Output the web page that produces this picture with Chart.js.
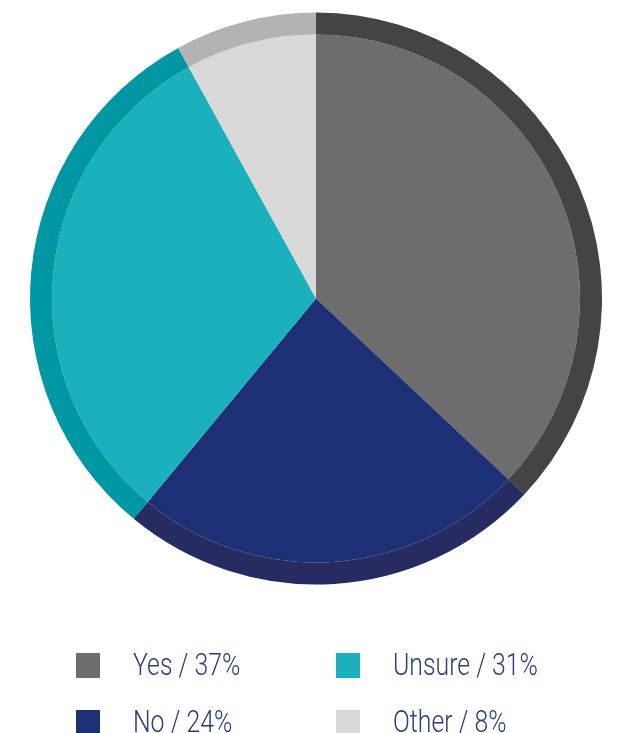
<!DOCTYPE html>
<html>
<head>
<meta charset="utf-8">
<script src="https://cdn.jsdelivr.net/npm/chart.js@4/dist/chart.umd.min.js"></script>
<style>
  html, body { margin: 0; padding: 0; background: #fff; }
  .wrap { position: relative; width: 617px; height: 733px; overflow: hidden; }
  #chart { position: absolute; left: 0; top: 0; }
  .legend { position: absolute; left: 0; top: 0; width: 617px; height: 733px; pointer-events: none; }
  .item { position: absolute; display: flex; align-items: center; height: 26px; }
  .swatch { width: 24px; height: 25px; margin-right: 33px; flex: none; }
  .txt {
    display: inline-block;
    font-family: Roboto, "Liberation Sans", sans-serif;
    font-weight: 300;
    font-size: 31px;
    line-height: 26px;
    color: #2c3b7b;
    white-space: nowrap;
    transform: scaleX(0.8);
    transform-origin: left center;
  }
</style>
</head>
<body>
<div class="wrap">
  <canvas id="chart" width="617" height="600"></canvas>
  <div class="legend" id="legend"></div>
</div>
<script>
const labels = ["Yes", "No", "Unsure", "Other"];
const values = [37, 24, 31, 8];
const fillColors = ["#6d6d6d", "#1e3075", "#1ab0bc", "#d9d9d9"];
const rimColors = ["#444444", "#262b62", "#0097a5", "#b3b3b3"];

// legend grid: column x and row y (top of the swatch) for each label
const legendCols = [76, 76, 336, 336];
const legendRows = [652, 709, 652, 709];

document.addEventListener("DOMContentLoaded", () => {
  const ctx = document.getElementById("chart").getContext("2d");

  new Chart(ctx, {
    type: "pie",
    data: {
      labels: labels,
      datasets: [
        {
          // outer darker rim
          data: values,
          backgroundColor: rimColors,
          borderWidth: 0,
          weight: 22,
        },
        {
          data: values,
          backgroundColor: fillColors,
          borderWidth: 0,
          weight: 264,
        },
      ],
    },
    options: {
      responsive: false,
      animation: false,
      events: [],
      layout: { padding: { left: 30, right: 15, top: 12, bottom: 15 } },
      plugins: { legend: { display: false }, tooltip: { enabled: false } },
    },
  });

  const legend = document.getElementById("legend");
  legend.innerHTML = labels
    .map(
      (l, i) =>
        `<div class="item" style="left:${legendCols[i]}px;top:${legendRows[i]}px">` +
        `<div class="swatch" style="background:${fillColors[i]}"></div>` +
        `<span class="txt">${l} / ${values[i]}%</span></div>`
    )
    .join("");
});
</script>
</body>
</html>
